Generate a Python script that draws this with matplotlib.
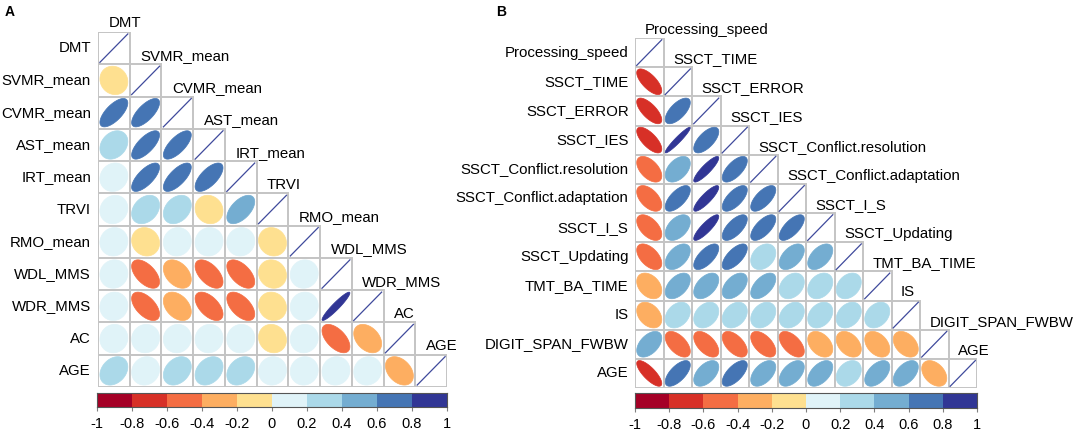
import numpy as np
import matplotlib
matplotlib.use('Agg')
import matplotlib.pyplot as plt
from matplotlib.patches import Polygon, Rectangle

plt.rcParams['font.family'] = ['Liberation Sans', 'DejaVu Sans']

# 面板 A 的变量及下三角相关系数（按行，不含对角线）
vars_a = ['DMT', 'SVMR_mean', 'CVMR_mean', 'AST_mean', 'IRT_mean', 'TRVI',
          'RMO_mean', 'WDL_MMS', 'WDR_MMS', 'AC', 'AGE']
corr_a_rows = [
    [],
    [-0.10],
    [0.68, 0.70],
    [0.25, 0.70, 0.70],
    [0.10, 0.70, 0.70, 0.66],
    [0.10, 0.30, 0.30, -0.10, 0.55],
    [0.05, -0.10, 0.05, 0.05, 0.05, -0.10],
    [0.05, -0.55, -0.38, -0.55, -0.55, -0.10, 0.05],
    [0.05, -0.55, -0.38, -0.55, -0.55, -0.10, 0.05, 0.94],
    [0.05, 0.05, 0.05, 0.05, 0.05, -0.10, 0.05, -0.56, -0.36],
    [0.28, 0.10, 0.30, 0.30, 0.30, 0.05, 0.05, 0.05, 0.08, -0.36],
]

# 面板 B
vars_b = ['Processing_speed', 'SSCT_TIME', 'SSCT_ERROR', 'SSCT_IES',
          'SSCT_Conflict.resolution', 'SSCT_Conflict.adaptation', 'SSCT_I_S',
          'SSCT_Updating', 'TMT_BA_TIME', 'IS', 'DIGIT_SPAN_FWBW', 'AGE']
corr_b_rows = [
    [],
    [-0.70],
    [-0.70, 0.65],
    [-0.70, 0.95, 0.65],
    [-0.52, 0.45, 0.88, 0.66],
    [-0.52, 0.65, 0.86, 0.66, 0.66],
    [-0.52, 0.45, 0.86, 0.66, 0.66, 0.68],
    [-0.52, 0.48, 0.66, 0.66, 0.30, 0.50, 0.50],
    [-0.35, 0.48, 0.48, 0.48, 0.55, 0.30, 0.30, 0.30],
    [-0.35, 0.30, 0.30, 0.30, 0.30, 0.30, 0.30, 0.30, 0.30],
    [0.48, -0.55, -0.55, -0.55, -0.55, -0.55, -0.38, -0.38, -0.38, -0.38],
    [-0.78, 0.65, 0.50, 0.65, 0.50, 0.50, 0.50, 0.30, 0.50, 0.50, -0.38],
]

cb_ticks = [-1, -0.8, -0.6, -0.4, -0.2, 0, 0.2, 0.4, 0.6, 0.8, 1]
cb_labels = ['-1', '-0.8', '-0.6', '-0.4', '-0.2', '0', '0.2', '0.4', '0.6', '0.8', '1']

palette = ['#A50026', '#D73027', '#F46D43', '#FDAE61', '#FEE090',
           '#E0F3F8', '#ABD9E9', '#74ADD1', '#4575B4', '#313695']
grid_col = '#C4C4C4'

W, H = 1084, 437
fig = plt.figure(figsize=(W / 100, H / 100), dpi=100)


def px_axes(x0, y0, x1, y1):
    return fig.add_axes([x0 / W, 1 - y1 / H, (x1 - x0) / W, (y1 - y0) / H])


def col_of(r):
    k = int(np.floor((r + 1) / 0.2))
    return palette[min(max(k, 0), 9)]


def ellipse_pts(r, cx, cy):
    # 与 corrplot 相同的椭圆
    k = np.linspace(0, 2 * np.pi, 99)
    d = np.arccos(np.clip(r, -1, 1))
    x = 0.88 * np.cos(k + d / 2) / 2
    y = 0.88 * np.cos(k - d / 2) / 2
    return np.column_stack([cx + x, cy - y])


def draw_panel(names, rows, box, cbox, fs=10.8):
    n = len(names)
    ax = px_axes(*box)
    ax.set_xlim(-0.5, n - 0.5)
    ax.set_ylim(n - 0.5, -0.5)
    ax.axis('off')
    for i in range(n):
        for j in range(i + 1):
            ax.add_patch(Rectangle((j - 0.5, i - 0.5), 1, 1, facecolor='white',
                                   edgecolor=grid_col, lw=1.4, zorder=1))
            if i == j:
                ax.plot([j - 0.44, j + 0.44], [i + 0.44, i - 0.44],
                        color='#3F4A9C', lw=0.9, zorder=3)
            else:
                r = rows[i][j]
                c = col_of(r)
                ax.add_patch(Polygon(ellipse_pts(r, j, i), closed=True,
                                     facecolor=c, edgecolor=c, lw=0.5, zorder=2))
        ax.text(-0.72, i, names[i], ha='right', va='center', fontsize=fs,
                clip_on=False)
        ax.text(i - 0.17, i - 0.64, names[i], ha='left', va='baseline',
                fontsize=fs, clip_on=False)

    cax = px_axes(*cbox)
    for k in range(10):
        cax.add_patch(Rectangle((cb_ticks[k], 0), 0.2, 1, facecolor=palette[k],
                                edgecolor='none'))
    cax.set_xlim(-1, 1)
    cax.set_ylim(0, 1)
    cax.set_yticks([])
    cax.set_xticks(cb_ticks)
    cax.set_xticklabels(cb_labels, fontsize=10.5)
    cax.tick_params(axis='x', length=3, width=0.8, color='#808080', pad=4)
    for s in cax.spines.values():
        s.set_color('#555555')
        s.set_linewidth(0.8)


draw_panel(vars_a, corr_a_rows, (98, 32, 447, 387), (97, 393, 447, 407))
draw_panel(vars_b, corr_b_rows, (635, 38, 977, 388), (635, 393, 977, 408))

fig.text(5 / W, 1 - 16 / H, 'A', fontsize=10, fontweight='bold')
fig.text(496 / W, 1 - 16 / H, 'B', fontsize=10, fontweight='bold')

fig.savefig('out.png', dpi=100)
